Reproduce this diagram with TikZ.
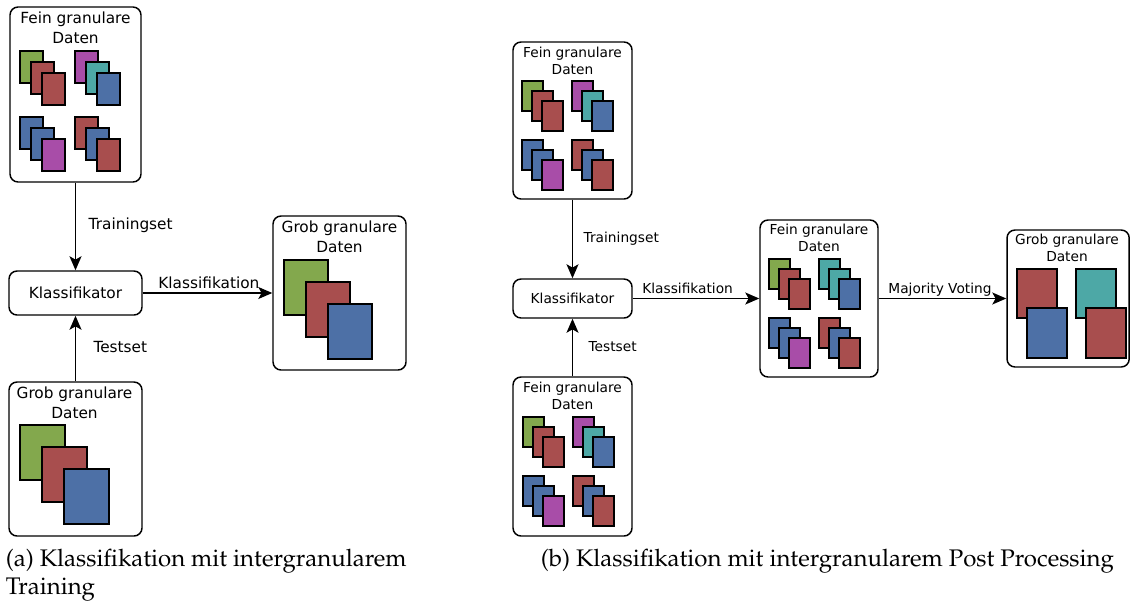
\documentclass[tikz,border=0pt]{standalone}
\usepackage[T1]{fontenc}
\usepackage{fontspec}
\setmainfont{DejaVu Sans}
\usetikzlibrary{arrows.meta,fit,calc}
\definecolor{cgreen}{RGB}{131,168,77}
\definecolor{cred}{RGB}{168,78,78}
\definecolor{cblue}{RGB}{77,112,166}
\definecolor{cpurple}{RGB}{168,77,168}
\definecolor{cteal}{RGB}{77,168,166}
\newcommand{\fonta}{\fontsize{11.5}{15}\selectfont}
\newcommand{\fontb}{\fontsize{10.3}{12.6}\selectfont}
\newcommand{\capfont}{\fontencoding{T1}\fontfamily{ppl}\fontseries{m}\fontshape{n}\fontsize{18}{21}\selectfont}
\newcommand{\cardstack}[8]{%
  \filldraw[card,fill=#6] (#1,#2) rectangle (#1+#3,#2+#4);
  \filldraw[card,fill=#7] (#1+#5,#2+#5) rectangle (#1+#5+#3,#2+#5+#4);
  \filldraw[card,fill=#8] (#1+2*#5,#2+2*#5) rectangle (#1+2*#5+#3,#2+2*#5+#4);
}
\tikzset{
  box/.style={draw, line width=1.1pt, rounded corners=6pt, inner sep=0pt},
  card/.style={draw=black, line width=0.85pt},
  arr/.style={-{Stealth[length=10.5pt,width=9pt,inset=2.5pt]}, line width=1pt},
  ttl/.style={anchor=north, inner sep=0pt, align=center},
  lab/.style={inner sep=0pt},
}
\begin{document}
\begin{tikzpicture}[x=0.75pt,y=-0.75pt]
\useasboundingbox (0,0) rectangle (1130,603);

% ---------- (a) ----------
\node[box, fit={(10,7) (141,182)}] (fa) {};
\node[ttl, font=\fonta] (fat) at (75.5,11.5) {Fein granulare\\Daten};
\cardstack{20}{51}{23}{32}{11}{cgreen}{cred}{cred}
\cardstack{75}{51}{23}{32}{11}{cpurple}{cteal}{cblue}
\cardstack{20}{117}{23}{32}{11}{cblue}{cblue}{cpurple}
\cardstack{75}{117}{23}{32}{11}{cred}{cblue}{cred}

\node[box, fit={(9,271) (142,315)}] (ka) {};
\node[lab, font=\fonta] (kat) at (ka.center) {Klassifikator};

\node[box, fit={(273,216) (406,370)}] (ga) {};
\node[ttl, font=\fonta] (gat) at (339.5,221) {Grob granulare\\Daten};
\cardstack{284}{260}{44}{55}{22}{cgreen}{cred}{cblue}

\node[box, fit={(9,382) (142,536)}] (gb) {};
\node[ttl, font=\fonta] (gbt) at (74.5,387) {Grob granulare\\Daten};
\cardstack{20}{425}{45}{55}{22}{cgreen}{cred}{cblue}

\draw[arr] (fa.south) -- (ka.north)
  node[midway, anchor=west, lab, font=\fonta, xshift=9.4pt, yshift=1pt] (tra) {Trainingset};
\draw[arr] (gb.north) -- (ka.south)
  node[midway, anchor=west, lab, font=\fonta, xshift=13pt, yshift=1pt] (tea) {Testset};
\draw[arr] (ka.east) -- (ga.west)
  node[pos=0, anchor=base west, lab, font=\fonta, xshift=11.25pt, yshift=3.3pt] (kla) {Klassifikation};

% ---------- (b) ----------
\node[box, fit={(513,42) (632,199)}] (fb1) {};
\node[ttl, font=\fontb] (fb1t) at (572.5,46.5) {Fein granulare\\Daten};
\cardstack{522}{81}{21}{30}{10}{cgreen}{cred}{cred}
\cardstack{572}{81}{21}{30}{10}{cpurple}{cteal}{cblue}
\cardstack{522}{140}{21}{30}{10}{cblue}{cblue}{cpurple}
\cardstack{572}{140}{21}{30}{10}{cred}{cblue}{cred}

\node[box, fit={(513,279) (632,318)}] (kb) {};
\node[lab, font=\fontb] (kbt) at (kb.center) {Klassifikator};

\node[box, fit={(513,377) (632,536)}] (fb3) {};
\node[ttl, font=\fontb] (fb3t) at (572.5,381.5) {Fein granulare\\Daten};
\cardstack{523}{417}{21}{30}{10}{cgreen}{cred}{cred}
\cardstack{573}{417}{21}{30}{10}{cpurple}{cteal}{cblue}
\cardstack{523}{476}{21}{30}{10}{cblue}{cblue}{cpurple}
\cardstack{573}{476}{21}{30}{10}{cred}{cblue}{cred}

\node[box, fit={(760,220) (878,377)}] (fb2) {};
\node[ttl, font=\fontb] (fb2t) at (819,223.5) {Fein granulare\\Daten};
\cardstack{769}{259}{21}{30}{10}{cgreen}{cred}{cred}
\cardstack{819}{259}{21}{30}{10}{cteal}{cteal}{cblue}
\cardstack{769}{318}{21}{30}{10}{cblue}{cblue}{cpurple}
\cardstack{819}{318}{21}{30}{10}{cred}{cblue}{cred}

\node[box, fit={(1007,230) (1129.2,367)}] (gbb) {};
\node[ttl, font=\fontb] (gbbt) at (1067,233.5) {Grob granulare\\Daten};
\filldraw[card,fill=cred] (1017,269) rectangle (1057,318);
\filldraw[card,fill=cblue] (1027,308) rectangle (1067,358);
\filldraw[card,fill=cteal] (1076,269) rectangle (1116,318);
\filldraw[card,fill=cred] (1086,308) rectangle (1126,358);

\draw[arr] (fb1.south) -- (kb.north)
  node[midway, anchor=west, lab, font=\fontb, xshift=7.9pt, yshift=0.5pt] (trb) {Trainingset};
\draw[arr] (fb3.north) -- (kb.south)
  node[midway, anchor=west, lab, font=\fontb, xshift=11.6pt, yshift=0.5pt] (teb) {Testset};
\draw[arr] (kb.east) -- (fb2.west)
  node[pos=0, anchor=base west, lab, font=\fontb, xshift=6.75pt, yshift=3.4pt] (klb) {Klassifikation};
\draw[arr] (fb2.east) -- (gbb.west)
  node[pos=0, anchor=base west, lab, font=\fontb, xshift=6.75pt, yshift=4.1pt] (mv) {Majority Voting};

% ---------- captions ----------
\node[anchor=north west, inner sep=0pt, align=left, font=\capfont] (capa) at (5.5,548.5)
  {(a) Klassifikation mit intergranularem\\Training};
\node[anchor=north west, inner sep=0pt, font=\capfont] (capb) at (540.5,548.5)
  {(b) Klassifikation mit intergranularem Post Processing};
\end{tikzpicture}
\end{document}
